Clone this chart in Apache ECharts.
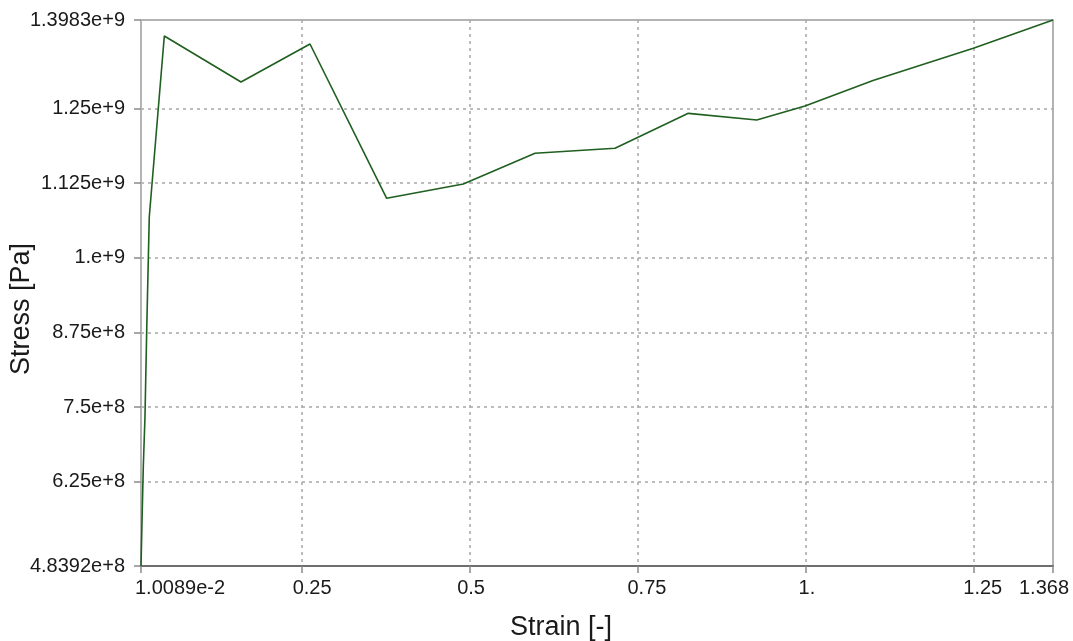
<!DOCTYPE html>
<html>
<head>
<meta charset="utf-8">
<title>Stress vs Strain</title>
<script src="https://cdn.jsdelivr.net/npm/echarts@6/dist/echarts.min.js"></script>
<style>
  html, body { margin: 0; padding: 0; background: #ffffff; }
  #chart { width: 1073px; height: 641px; }
</style>
</head>
<body>
<div id="chart"></div>
<script>
// Strain [-] and stress [Pa] curve points
const strain = [
  0.010089, 0.0120, 0.0135, 0.0160, 0.0186, 0.0224, 0.0359, 0.0448,
  0.1590, 0.2617, 0.3759, 0.4900, 0.5968, 0.7159, 0.8250, 0.9269,
  0.9988, 1.1000, 1.2494, 1.368
];
const stress = [
  4.8392e8, 5.777e8, 6.497e8, 7.334e8, 8.791e8, 1.0684e9, 1.2509e9, 1.3715e9,
  1.2945e9, 1.3581e9, 1.0997e9, 1.1236e9, 1.1751e9, 1.1834e9, 1.2420e9, 1.2308e9,
  1.2543e9, 1.2970e9, 1.3509e9, 1.3983e9
];

// Axis ticks and their printed labels
const xTicks = [0.010089, 0.25, 0.5, 0.75, 1.0, 1.25, 1.368];
const xTickLabels = ['1.0089e-2', '0.25', '0.5', '0.75', '1.', '1.25', '1.368'];
const yTicks = [4.8392e8, 6.25e8, 7.5e8, 8.75e8, 1.0e9, 1.125e9, 1.25e9, 1.3983e9];
const yTickLabels = ['4.8392e+8', '6.25e+8', '7.5e+8', '8.75e+8', '1.e+9', '1.125e+9', '1.25e+9', '1.3983e+9'];

// Horizontal nudge (px) of each x tick label relative to its tick
const xLabelNudge = [39, 10, 1, 9, 1, 9, -9];

const FONT = '"Liberation Sans", Arial, sans-serif';

function nearestIndex(arr, v) {
  let best = 0;
  for (let i = 1; i < arr.length; i++) {
    if (Math.abs(arr[i] - v) < Math.abs(arr[best] - v)) best = i;
  }
  return best;
}

// Rich styles used to shift x labels sideways
const xRich = {};
xLabelNudge.forEach((n, i) => {
  xRich['n' + i] = {
    fontFamily: FONT, fontSize: 20, color: '#1a1a1a',
    padding: n >= 0 ? [0, 0, 0, 2 * n] : [0, -2 * n, 0, 0]
  };
});

const chart = echarts.init(document.getElementById('chart'), null, { renderer: 'canvas' });

chart.setOption({
  animation: false,
  backgroundColor: '#ffffff',
  grid: {
    left: 141, right: 20, top: 20, bottom: 75,
    containLabel: false,
    outerBoundsMode: 'none',
    show: true, borderColor: '#9a9a9a', borderWidth: 1.5, backgroundColor: 'transparent'
  },
  xAxis: {
    type: 'value',
    min: xTicks[0],
    max: xTicks[xTicks.length - 1],
    name: 'Strain [-]',
    nameLocation: 'middle',
    nameGap: 48,
    nameMoveOverlap: false,
    nameTextStyle: { fontFamily: FONT, fontSize: 27, color: '#1a1a1a', padding: [0, 72, 0, 0] },
    axisLine: { show: true, onZero: false, lineStyle: { color: '#6e6e6e', width: 2 } },
    axisTick: { show: true, length: 7, customValues: xTicks, lineStyle: { color: '#8a8a8a', width: 1.5 } },
    axisLabel: {
      customValues: xTicks,
      margin: 12,
      showMinLabel: true, showMaxLabel: true, hideOverlap: false,
      fontFamily: FONT, fontSize: 20, color: '#1a1a1a',
      formatter: (v) => {
        const i = nearestIndex(xTicks, v);
        return '{n' + i + '|' + xTickLabels[i] + '}';
      },
      rich: xRich
    },
    splitLine: {
      show: true, showMinLine: false, showMaxLine: false,
      lineStyle: { color: '#a6a6a6', width: 1.5, type: [3, 4] }
    }
  },
  yAxis: {
    type: 'value',
    min: yTicks[0],
    max: yTicks[yTicks.length - 1],
    name: 'Stress [Pa]',
    nameLocation: 'middle',
    nameGap: 106,
    nameMoveOverlap: false,
    nameTextStyle: { fontFamily: FONT, fontSize: 27, color: '#1a1a1a', padding: [0, 32, 0, 0] },
    axisLine: { show: true, onZero: false, lineStyle: { color: '#b4b4b4', width: 2 } },
    axisTick: { show: true, length: 7, customValues: yTicks, lineStyle: { color: '#8a8a8a', width: 1.5 } },
    axisLabel: {
      customValues: yTicks,
      margin: 16,
      showMinLabel: true, showMaxLabel: true, hideOverlap: false,
      fontFamily: FONT, fontSize: 20, color: '#1a1a1a',
      formatter: (v) => yTickLabels[nearestIndex(yTicks, v)]
    },
    splitLine: {
      show: true, showMinLine: false, showMaxLine: false,
      lineStyle: { color: '#a6a6a6', width: 1.5, type: [3, 4] }
    }
  },
  series: [{
    type: 'line',
    data: strain.map((s, i) => [s, stress[i]]),
    showSymbol: false,
    clip: false,
    lineStyle: { color: '#1f5f1f', width: 1.6 }
  }]
});
</script>
</body>
</html>
